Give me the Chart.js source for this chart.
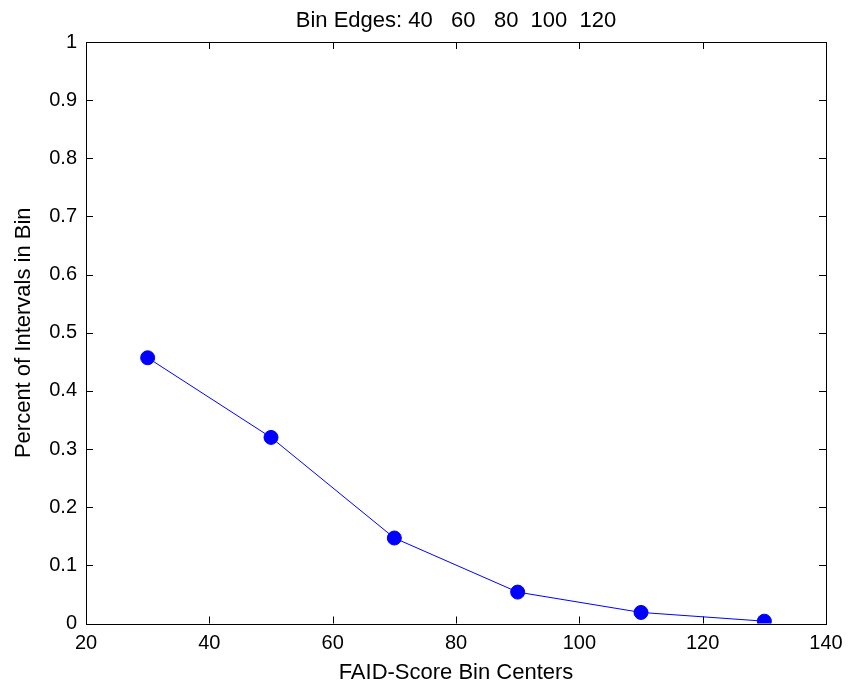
<!DOCTYPE html>
<html>
<head>
<meta charset="utf-8">
<script src="https://cdn.jsdelivr.net/npm/chart.js@4/dist/chart.umd.min.js"></script>
<style>
  html, body { margin: 0; padding: 0; background: #ffffff; }
  #wrap { width: 851px; height: 690px; position: relative; }
</style>
</head>
<body>
<div id="wrap"><canvas id="c" width="851" height="690"></canvas></div>
<script>
// Share of intervals falling in each FAID-score bin
const binCenters = [30, 50, 70, 90, 110, 130];
const percentInBin = [0.457, 0.320, 0.147, 0.054, 0.019, 0.004];

const xTickValues = [20, 40, 60, 80, 100, 120, 140];
const yTickValues = [0, 0.1, 0.2, 0.3, 0.4, 0.5, 0.6, 0.7, 0.8, 0.9, 1];
const yTickLabels = ['0', '0.1', '0.2', '0.3', '0.4', '0.5', '0.6', '0.7', '0.8', '0.9', '1'];
const binEdges = [40, 60, 80, 100, 120];

// num2str-style spacing: each value right-aligned in a 5-character field
const titleText = 'Bin Edges: ' + binEdges.map(v => String(v).padStart(5, ' ')).join('').replace(/^\s+/, '');

const FONT = '"Liberation Sans", Arial, Helvetica, sans-serif';
const TICK_LEN = 7;

// Box around the axes, inward tick marks on all four sides, and the top title
const matlabAxes = {
  id: 'matlabAxes',
  afterDatasetsDraw(chart) {
    const { ctx, chartArea: a, scales: { x, y } } = chart;
    ctx.save();
    ctx.strokeStyle = '#000000';
    ctx.lineWidth = 1;
    ctx.beginPath();
    xTickValues.forEach(v => {
      const px = Math.round(x.getPixelForValue(v)) + 0.5;
      ctx.moveTo(px, a.bottom); ctx.lineTo(px, a.bottom - TICK_LEN);
      ctx.moveTo(px, a.top); ctx.lineTo(px, a.top + TICK_LEN);
    });
    yTickValues.forEach(v => {
      const py = Math.round(y.getPixelForValue(v)) + 0.5;
      ctx.moveTo(a.left, py); ctx.lineTo(a.left + TICK_LEN, py);
      ctx.moveTo(a.right, py); ctx.lineTo(a.right - TICK_LEN, py);
    });
    ctx.stroke();
    ctx.strokeRect(Math.round(a.left) + 0.5, Math.round(a.top) + 0.5,
                   Math.round(a.right - a.left), Math.round(a.bottom - a.top));

    ctx.fillStyle = '#000000';
    ctx.font = '22px ' + FONT;
    ctx.textAlign = 'center';
    ctx.textBaseline = 'alphabetic';
    ctx.fillText(titleText, (a.left + a.right) / 2, 27);
    ctx.restore();
  }
};

new Chart(document.getElementById('c'), {
  type: 'line',
  data: {
    datasets: [{
      data: binCenters.map((c, i) => ({ x: c, y: percentInBin[i] })),
      borderColor: '#0000ff',
      backgroundColor: '#0000ff',
      borderWidth: 1,
      pointRadius: 7,
      pointBorderWidth: 1,
      pointBorderColor: '#0000ff',
      pointBackgroundColor: '#0000ff',
      tension: 0,
      fill: false
    }]
  },
  options: {
    responsive: false,
    animation: false,
    devicePixelRatio: 1,
    layout: { padding: { top: 42, right: 25, bottom: 0, left: 0 } },
    plugins: {
      legend: { display: false },
      title: { display: false },
      tooltip: { enabled: false }
    },
    scales: {
      x: {
        type: 'linear',
        min: 20,
        max: 140,
        grid: { display: false, drawTicks: false },
        border: { display: false },
        afterBuildTicks: s => { s.ticks = xTickValues.map(v => ({ value: v })); },
        afterFit: s => { s.height = 66.5; },
        ticks: {
          padding: 8,
          color: '#000000',
          font: { family: FONT, size: 20 },
          maxRotation: 0,
          autoSkip: false,
          callback: v => String(v)
        },
        title: {
          display: true,
          text: 'FAID-Score Bin Centers',
          color: '#000000',
          font: { family: FONT, size: 22 },
          padding: { top: 0, bottom: 4 }
        }
      },
      y: {
        type: 'linear',
        min: 0,
        max: 1,
        grid: { display: false, drawTicks: false },
        border: { display: false },
        afterBuildTicks: s => { s.ticks = yTickValues.map(v => ({ value: v })); },
        afterFit: s => { s.width = 86; },
        ticks: {
          padding: 9,
          color: '#000000',
          font: { family: FONT, size: 20 },
          autoSkip: false,
          callback: (v, i) => yTickLabels[i]
        },
        title: {
          display: true,
          text: 'Percent of Intervals in Bin',
          color: '#000000',
          font: { family: FONT, size: 22 },
          padding: { top: 11, bottom: 0 }
        }
      }
    }
  },
  plugins: [matlabAxes]
});
</script>
</body>
</html>
